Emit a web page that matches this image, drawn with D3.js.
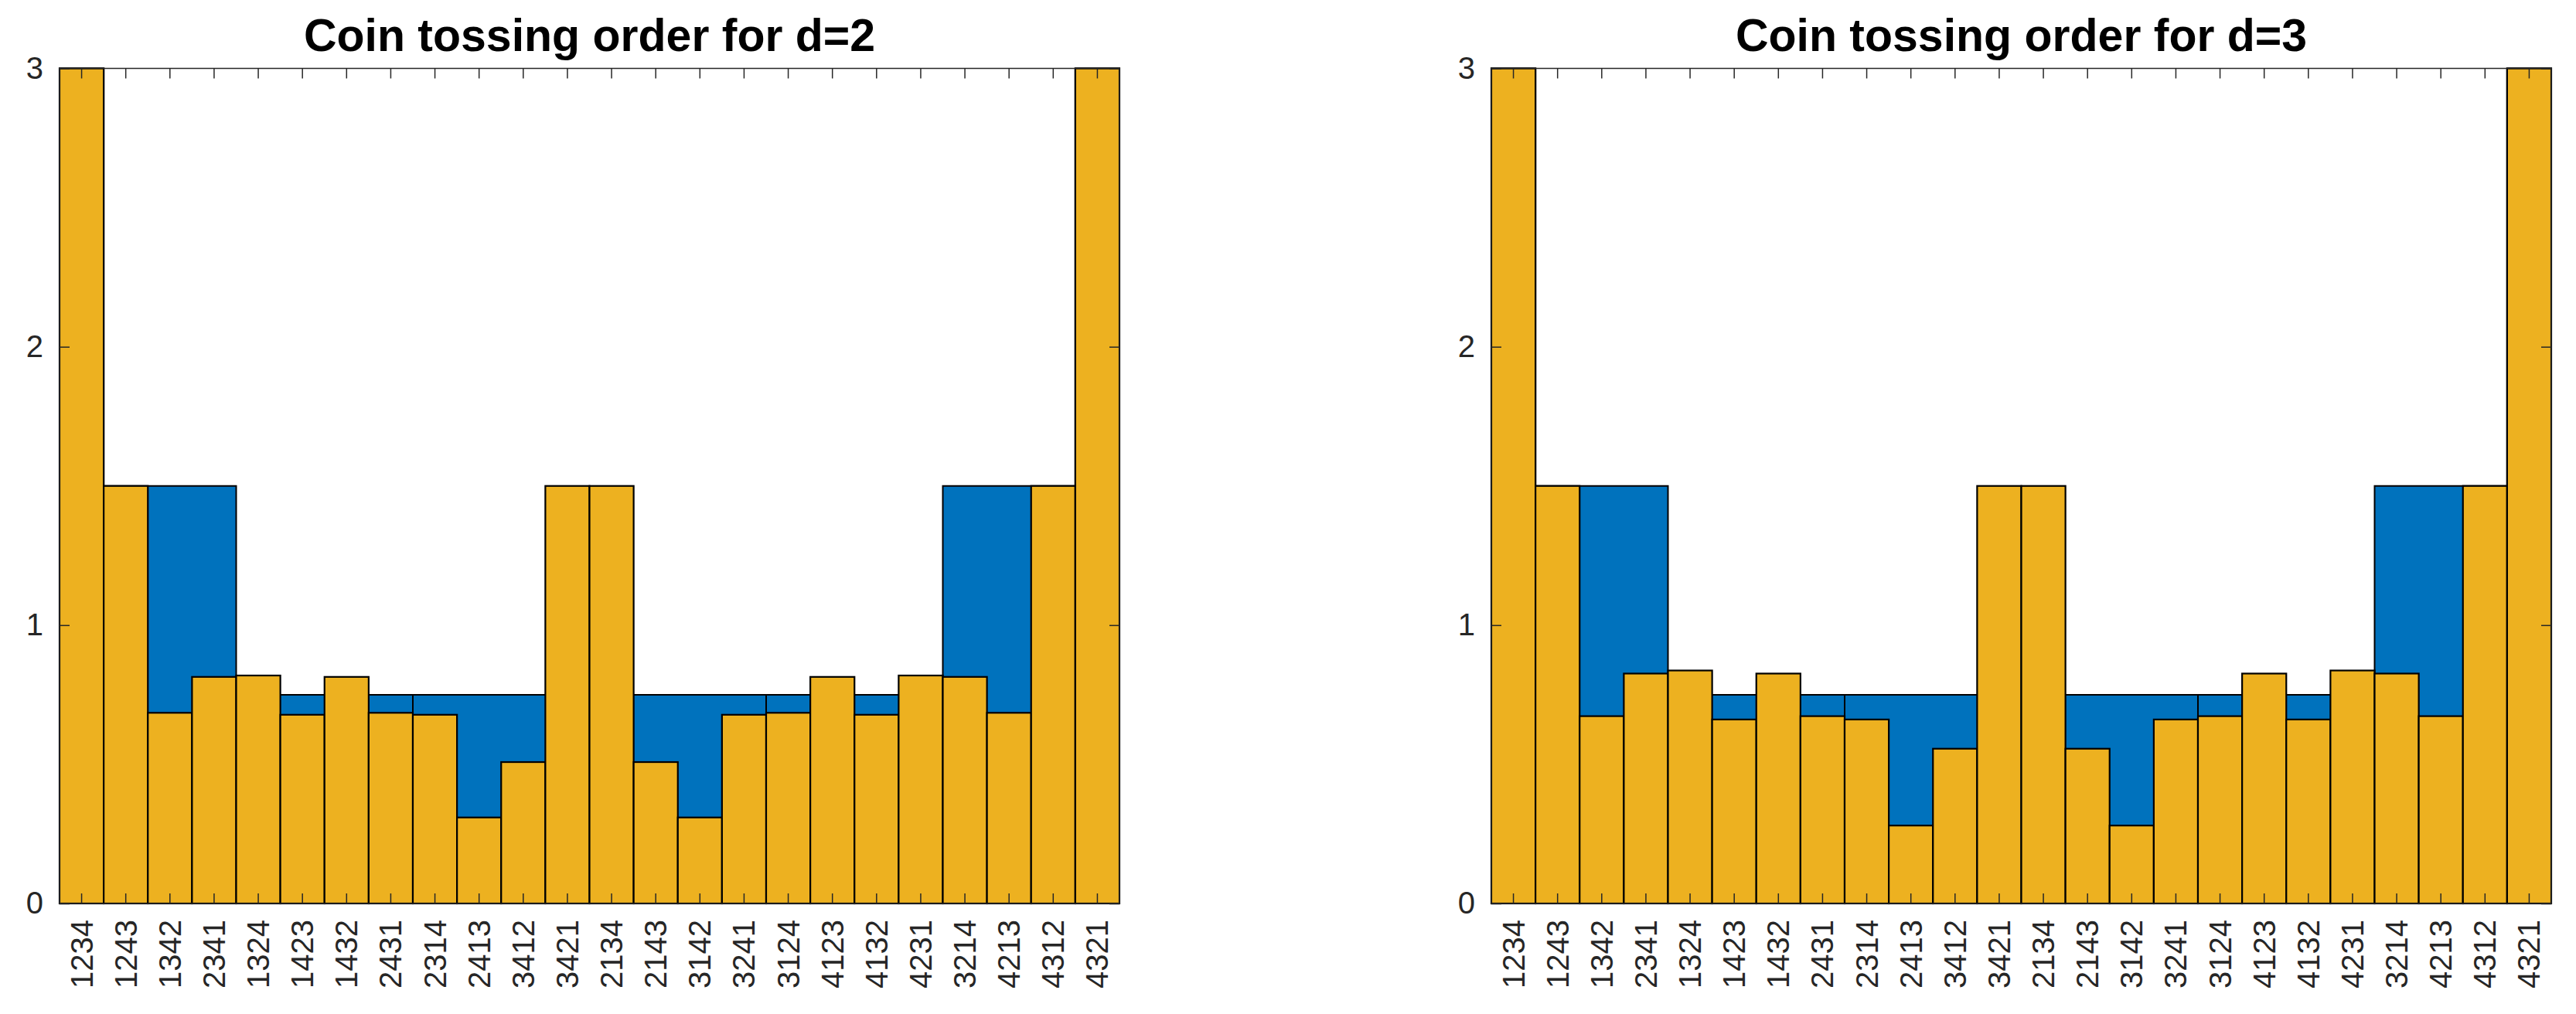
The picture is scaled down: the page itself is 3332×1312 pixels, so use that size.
<!DOCTYPE html>
<html>
<head>
<meta charset="utf-8">
<script src="https://cdn.jsdelivr.net/npm/d3@7"></script>
<style>
  body { margin: 0; background: #fff; }
  svg { display: block; font-family: "Liberation Sans", Arial, sans-serif; }
</style>
</head>
<body>
<div class="container"></div>
<script>
const width = 3332, height = 1312;

// permutation labels (x categories)
const perms = ["1234","1243","1342","2341","1324","1423","1432","2431","2314","2413","3412","3421",
               "2134","2143","3142","3241","3124","4123","4132","4231","3214","4213","4312","4321"];

// blue series (drawn behind), outlined in groups of four bars
const blueVals = [3, 1.5, 1.5, 1.5, 0.75, 0.75, 0.75, 0.75, 0.75, 0.75, 0.75, 0.75,
                  0.75, 0.75, 0.75, 0.75, 0.75, 0.75, 0.75, 0.75, 1.5, 1.5, 1.5, 3];
const blueGroupStarts = ["1234", "1324", "2314", "2134", "3124", "3214"];

// yellow series, d=2
const yellowD2 = [3, 1.5, 0.685, 0.814, 0.819, 0.678, 0.814, 0.685, 0.678, 0.309, 0.508, 1.5,
                  1.5, 0.508, 0.309, 0.678, 0.685, 0.814, 0.678, 0.819, 0.814, 0.685, 1.5, 3];

// yellow series, d=3
const yellowD3 = [3, 1.5, 0.673, 0.826, 0.837, 0.661, 0.826, 0.673, 0.661, 0.280, 0.556, 1.5,
                  1.5, 0.556, 0.280, 0.661, 0.673, 0.826, 0.661, 0.837, 0.826, 0.673, 1.5, 3];

const yTicks = [0, 1, 2, 3];
const titles = ["Coin tossing order for d=2", "Coin tossing order for d=3"];

const blue = "#0072BD", yellow = "#EDB120", axisColor = "#262626";

const svg = d3.select(".container")
  .append("svg")
  .attr("width", width)
  .attr("height", height);

const plotTop = 88.5, plotBottom = 1169;
const panels = [
  { left: 77, right: 1448, yellow: yellowD2, title: titles[0] },
  { left: 1929, right: 3300, yellow: yellowD3, title: titles[1] }
];

const y = d3.scaleLinear().domain([0, 3]).range([plotBottom, plotTop]);

// split blue bars into outlined groups
const startIdx = blueGroupStarts.map(k => perms.indexOf(k));
const blueGroups = startIdx.map((s, i) => {
  const e = i + 1 < startIdx.length ? startIdx[i + 1] : perms.length;
  return perms.slice(s, e).map((k, j) => ({ k, v: blueVals[s + j] }));
});

panels.forEach(p => {
  const x = d3.scaleBand().domain(perms).range([p.left, p.right]).padding(0);
  const bw = x.bandwidth();
  const g = svg.append("g");

  const stepPath = grp => {
    const pts = [[x(grp[0].k), y(0)]];
    grp.forEach(d => {
      pts.push([x(d.k), y(d.v)]);
      pts.push([x(d.k) + bw, y(d.v)]);
    });
    pts.push([x(grp[grp.length - 1].k) + bw, y(0)]);
    return d3.line()(pts) + "Z";
  };

  g.append("g")
    .selectAll("path")
    .data(blueGroups)
    .join("path")
    .attr("d", stepPath)
    .attr("fill", blue)
    .attr("stroke", "#000")
    .attr("stroke-width", 2);

  g.append("g")
    .selectAll("rect")
    .data(perms.map((k, i) => ({ k, v: p.yellow[i] })))
    .join("rect")
    .attr("x", d => x(d.k))
    .attr("width", bw)
    .attr("y", d => y(d.v))
    .attr("height", d => y(0) - y(d.v))
    .attr("fill", yellow)
    .attr("stroke", "#000")
    .attr("stroke-width", 2.2);

  // box
  g.append("rect")
    .attr("x", p.left).attr("y", plotTop)
    .attr("width", p.right - p.left).attr("height", plotBottom - plotTop)
    .attr("fill", "none")
    .attr("stroke", axisColor)
    .attr("stroke-width", 1.5);

  const styleAxis = sel => {
    sel.select(".domain").remove();
    sel.selectAll(".tick line").attr("stroke", axisColor).attr("stroke-width", 1.5);
    sel.selectAll("text").attr("fill", axisColor).style("font-size", "40px");
  };

  // bottom axis with rotated labels
  g.append("g")
    .attr("transform", `translate(0,${plotBottom})`)
    .call(d3.axisBottom(x).tickSizeInner(-13).tickSizeOuter(0))
    .call(styleAxis)
    .call(s => s.selectAll("text")
      .attr("y", 0).attr("dy", null)
      .attr("text-anchor", "end")
      .attr("dominant-baseline", "central")
      .attr("transform", "translate(0,21) rotate(-90)"));

  // top axis ticks
  g.append("g")
    .attr("transform", `translate(0,${plotTop})`)
    .call(d3.axisTop(x).tickSizeInner(-13).tickSizeOuter(0).tickFormat(""))
    .call(styleAxis);

  // left axis
  g.append("g")
    .attr("transform", `translate(${p.left},0)`)
    .call(d3.axisLeft(y).tickValues(yTicks).tickSizeInner(-13).tickSizeOuter(0).tickPadding(21).tickFormat(d3.format("d")))
    .call(styleAxis);

  // right axis ticks
  g.append("g")
    .attr("transform", `translate(${p.right},0)`)
    .call(d3.axisRight(y).tickValues(yTicks).tickSizeInner(-13).tickSizeOuter(0).tickFormat(""))
    .call(styleAxis);

  g.append("text")
    .attr("x", (p.left + p.right) / 2)
    .attr("y", 66)
    .attr("text-anchor", "middle")
    .style("font-size", "59px")
    .style("font-weight", "bold")
    .attr("fill", "#000")
    .text(p.title);
});
</script>
</body>
</html>
